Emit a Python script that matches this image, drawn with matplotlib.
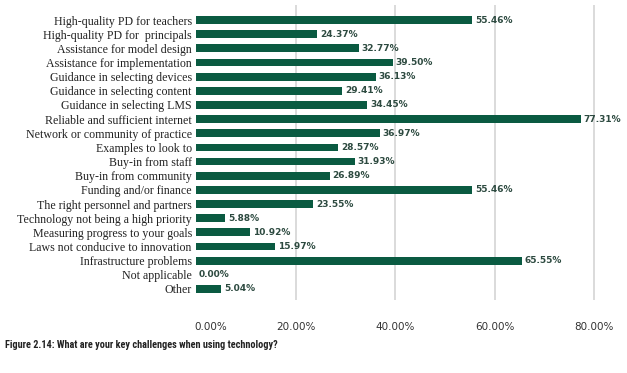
import matplotlib
matplotlib.use("Agg")
import matplotlib.pyplot as plt
from matplotlib import font_manager
from matplotlib.transforms import ScaledTranslation

categories = [
    "High-quality PD for teachers",
    "High-quality PD for  principals",
    "Assistance for model design",
    "Assistance for implementation",
    "Guidance in selecting devices",
    "Guidance in selecting content",
    "Guidance in selecting LMS",
    "Reliable and sufficient internet",
    "Network or community of practice",
    "Examples to look to",
    "Buy-in from staff",
    "Buy-in from community",
    "Funding and/or finance",
    "The right personnel and partners",
    "Technology not being a high priority",
    "Measuring progress to your goals",
    "Laws not conducive to innovation",
    "Infrastructure problems",
    "Not applicable",
    "Other",
]
values = [55.46, 24.37, 32.77, 39.50, 36.13, 29.41, 34.45, 77.31, 36.97, 28.57,
          31.93, 26.89, 55.46, 23.55, 5.88, 10.92, 15.97, 65.55, 0.00, 5.04]
xticks = [0, 20, 40, 60, 80]
caption = "Figure 2.14: What are your key challenges when using technology?"

# caption is set in a condensed bold face; use what is installed
installed = {f.name for f in font_manager.fontManager.ttflist}
cap_font, cap_size = "DejaVu Sans", 5.8
for name, size in [("Liberation Sans Narrow", 7.4), ("Roboto Condensed", 7.4),
                   ("Open Sans Condensed", 7.4), ("DejaVu Sans Condensed", 6.0),
                   ("Roboto", 6.4)]:
    if name in installed:
        cap_font, cap_size = name, size
        break

bar_color = "#0a5a41"
fig = plt.figure(figsize=(6.27, 3.73), dpi=100)
ax = fig.add_axes([196 / 627, 1 - 300 / 373, 423 / 627, 295 / 373])

ypos = list(range(len(categories)))
ax.barh(ypos, values, height=0.55, color=bar_color, zorder=3)
for y, v in zip(ypos, values):
    ax.annotate(f"{v:.2f}%", (v, y), xytext=(2, 0), textcoords="offset points",
                va="center", ha="left", fontsize=6.5, fontweight="bold",
                color="#2d4a40", family="DejaVu Sans")

ax.set_xlim(0, 85)
ax.set_ylim(19.78, -1.06)
ax.set_yticks(ypos)
ax.set_yticklabels(categories, family="Liberation Serif", fontsize=8.6, color="#222222")
ax.set_xticks(xticks)
ax.set_xticklabels([f"{t:.2f}%" for t in xticks], family="DejaVu Sans",
                   fontsize=7.5, color="#333333")
ax.tick_params(axis="y", length=0, pad=3)
ax.tick_params(axis="x", length=0, pad=16)
for t in xticks[1:]:
    ax.axvline(t, color="#d4d4d4", lw=1.2, zorder=1)
for s in ax.spines.values():
    s.set_visible(False)

# the 0.00% label sits a little to the right in the original
lbl = ax.get_xticklabels()[0]
lbl.set_transform(lbl.get_transform() + ScaledTranslation(0.15, 0, fig.dpi_scale_trans))

fig.text(5 / 627, 1 - 345 / 373, caption, family=[cap_font, "DejaVu Sans"],
         fontweight="bold", fontsize=cap_size, color="#222222", va="center", ha="left")

fig.savefig("out.png", dpi=100)
